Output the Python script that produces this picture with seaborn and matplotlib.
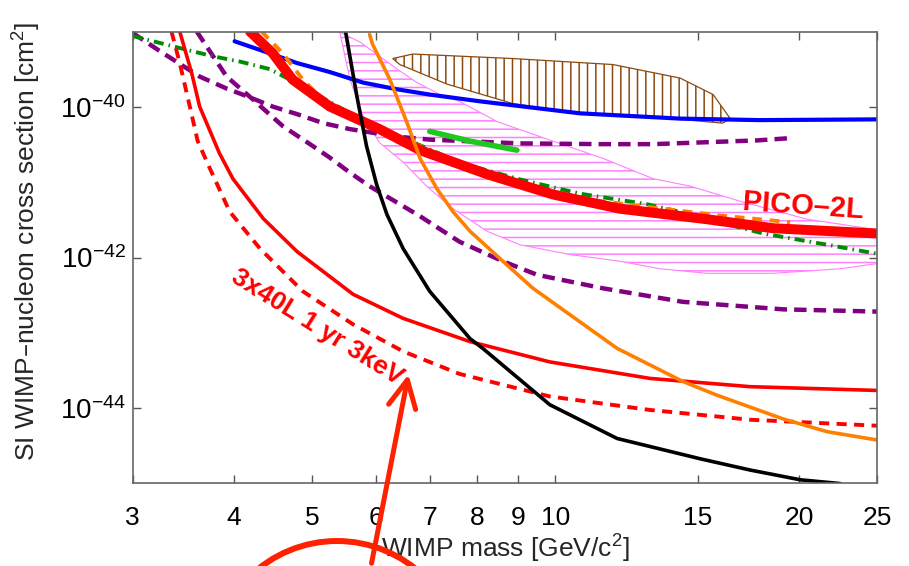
import numpy as np
import pandas as pd
import matplotlib
matplotlib.use("Agg")
import matplotlib.pyplot as plt
from matplotlib.patches import Polygon, Ellipse, FancyArrowPatch
from matplotlib.ticker import NullLocator
import seaborn as sns

# WIMP mass [GeV/c^2] and log10(cross section [cm^2])
pico_m = [4.19, 4.47, 4.73, 5.26, 6.06, 6.80, 8.23, 9.93, 12.02, 15.40, 18.59, 25.0]
pico_ls = [-38.99, -39.28, -39.63, -39.99, -40.29, -40.57, -40.89, -41.16, -41.35, -41.49, -41.61, -41.68]

blue_m = [4.01, 4.35, 4.79, 5.26, 5.78, 6.37, 6.99, 8.07, 10.73, 14.26, 17.91, 25.0]
blue_ls = [-39.12, -39.25, -39.41, -39.53, -39.67, -39.76, -39.83, -39.92, -40.08, -40.15, -40.17, -40.16]

black_m = [5.50, 5.68, 5.84, 6.01, 6.19, 6.48, 6.99, 7.84, 8.13, 9.84, 11.92, 15.10, 17.41, 20.08, 22.50]
black_ls = [-38.99, -39.85, -40.52, -41.03, -41.43, -41.88, -42.45, -43.08, -43.21, -43.96, -44.41, -44.68, -44.83, -44.96, -45.01]

orange_m = [5.89, 5.94, 6.24, 6.55, 6.80, 7.13, 7.47, 7.84, 8.61, 9.38, 11.92, 14.37, 15.81, 19.13, 21.69, 25.0]
orange_ls = [-39.03, -39.16, -39.63, -40.20, -40.68, -41.08, -41.39, -41.65, -42.05, -42.41, -43.21, -43.65, -43.83, -44.15, -44.32, -44.43]

orange_dash_m = [4.33, 4.60, 4.87, 5.26, 6.06, 8.23, 10.13, 13.09, 15.98, 19.51]
orange_dash_ls = [-38.99, -39.28, -39.63, -39.99, -40.29, -40.89, -41.18, -41.33, -41.44, -41.53]

green_dd_m = [3.0, 3.43, 3.77, 4.07, 4.43, 4.73, 5.94, 6.55, 7.13, 7.68, 9.04, 10.73, 12.98, 13.98, 18.07, 21.69, 25.0]
green_dd_ls = [-39.05, -39.21, -39.32, -39.39, -39.49, -39.65, -40.25, -40.43, -40.60, -40.75, -40.96, -41.15, -41.29, -41.37, -41.68, -41.83, -41.95]

green_m = [6.99, 7.84, 8.96]
green_ls = [-40.32, -40.45, -40.57]

purple_up_m = [3.0, 3.24, 3.63, 3.92, 4.15, 4.47, 4.79, 5.16, 5.57, 6.37, 6.99, 9.04, 11.45, 13.21, 17.76, 19.51]
purple_up_ls = [-39.01, -39.25, -39.59, -39.75, -39.85, -39.99, -40.09, -40.21, -40.29, -40.39, -40.43, -40.48, -40.49, -40.49, -40.44, -40.41]

purple_lo_m = [3.60, 3.92, 4.22, 4.60, 4.97, 5.26, 5.57, 5.89, 6.80, 7.61, 8.61, 9.49, 11.45, 14.37, 19.13, 25.0]
purple_lo_ls = [-38.99, -39.59, -39.89, -40.25, -40.49, -40.67, -40.87, -41.05, -41.45, -41.79, -42.05, -42.23, -42.41, -42.59, -42.69, -42.72]

red_m = [3.43, 3.55, 3.63, 3.84, 3.99, 4.35, 4.79, 5.62, 6.48, 7.84, 9.84, 13.09, 17.41, 25.0]
red_ls = [-38.99, -39.55, -39.99, -40.61, -40.95, -41.48, -41.92, -42.49, -42.81, -43.12, -43.39, -43.61, -43.72, -43.77]

red_dash_m = [3.35, 3.43, 3.53, 3.61, 3.736, 3.955, 4.31, 4.87, 5.62, 6.48, 7.61, 9.84, 13.09, 17.41, 25.0]
red_dash_ls = [-38.99, -39.41, -39.99, -40.45, -40.81, -41.39, -41.88, -42.45, -42.89, -43.25, -43.55, -43.85, -44.03, -44.16, -44.24]

# closed regions (outline walked round)
pink_m = [5.41, 5.73, 6.06, 6.37, 6.74, 7.20, 7.61, 8.47, 9.93, 11.45, 13.21, 14.68, 16.92, 20.48, 25.0,
          25.0, 22.5, 18.59, 15.40, 13.47, 12.02, 10.42, 9.04, 8.23, 7.47, 6.93, 6.48, 6.06, 5.78, 5.57]
pink_ls = [-39.0, -39.13, -39.32, -39.49, -39.67, -39.83, -39.92, -40.19, -40.45, -40.68, -40.95, -41.05, -41.25, -41.49, -41.63,
           -42.08, -42.15, -42.21, -42.21, -42.15, -42.05, -41.96, -41.83, -41.65, -41.35, -41.05, -40.73, -40.47, -40.12, -39.63]

brown_m = [6.29, 6.66, 8.86, 11.78, 14.26, 15.67, 16.45, 16.1, 14.26, 10.73, 8.86, 7.34, 6.42]
brown_ls = [-39.35, -39.29, -39.35, -39.43, -39.61, -39.83, -40.15, -40.21, -40.16, -40.08, -39.95, -39.69, -39.43]

x_ticks = [3, 4, 5, 6, 7, 8, 9, 10, 15, 20, 25]
y_ticks = [-44, -42, -40]

RED = "#FF0000"
PURPLE = "#800080"
ORANGE = "#FF8000"

sns.set_theme(style="ticks")
plt.rcParams["font.family"] = ["Liberation Sans", "DejaVu Sans"]
plt.rcParams["mathtext.default"] = "regular"
plt.rcParams["hatch.linewidth"] = 1.1

fig = plt.figure(figsize=(9.09, 5.66), dpi=100)
ax = fig.add_axes([0.146, 0.147, 0.819, 0.796])
ax.set_xscale("log")
ax.set_yscale("log")

# hatched regions
ax.add_patch(Polygon(np.column_stack([pink_m, 10.0 ** np.array(pink_ls)]), closed=True,
                     facecolor="none", edgecolor="#FF80FF", linewidth=0.8, hatch="--", zorder=1))
ax.add_patch(Polygon(np.column_stack([brown_m, 10.0 ** np.array(brown_ls)]), closed=True,
                     facecolor="none", edgecolor="#8B4A10", linewidth=0.9, hatch="||", zorder=1))

curves = [
    (purple_up_m, purple_up_ls, dict(color=PURPLE, linewidth=3.2, dashes=(2.8, 1.6))),
    (purple_lo_m, purple_lo_ls, dict(color=PURPLE, linewidth=3.2, dashes=(2.8, 1.6))),
    (green_dd_m, green_dd_ls, dict(color="#008C00", linewidth=2.8, dashes=(2.6, 1.3, 0.4, 1.3))),
    (green_m, green_ls, dict(color="#1EC81E", linewidth=4.0, solid_capstyle="round")),
    (red_m, red_ls, dict(color=RED, linewidth=2.6)),
    (red_dash_m, red_dash_ls, dict(color=RED, linewidth=2.8, dashes=(2.6, 1.9))),
    (blue_m, blue_ls, dict(color="#0000FF", linewidth=3.0)),
    (orange_dash_m, orange_dash_ls, dict(color=ORANGE, linewidth=2.8, dashes=(2.5, 2.0))),
    (pico_m, pico_ls, dict(color=RED, linewidth=7.2)),
    (black_m, black_ls, dict(color="black", linewidth=2.6)),
    (orange_m, orange_ls, dict(color=ORANGE, linewidth=2.6)),
]
for m, ls, style in curves:
    df = pd.DataFrame({"mass": m, "sigma": 10.0 ** np.array(ls)})
    sns.lineplot(data=df, x="mass", y="sigma", ax=ax, sort=False, estimator=None,
                 legend=False, **style)

ax.set_xlim(3, 25)
ax.set_ylim(1e-45, 1e-39)
ax.xaxis.set_minor_locator(NullLocator())
ax.yaxis.set_minor_locator(NullLocator())
ax.set_xticks(x_ticks)
ax.set_xticklabels([str(t) for t in x_ticks])
ax.set_yticks([10.0 ** e for e in y_ticks])
ax.set_yticklabels([r"$\mathdefault{10^{%d}}$" % e for e in y_ticks])
ax.tick_params(direction="in", top=True, right=True, length=6, width=1,
               color="#555555", labelcolor="black")
ax.tick_params(axis="x", labelsize=19, pad=17)
ax.tick_params(axis="y", labelsize=20, pad=5)
for sp in ax.spines.values():
    sp.set_color("#666666")
    sp.set_linewidth(1.2)

ax.set_xlabel(r"WIMP mass [GeV/c$^{2}$]", fontsize=19)
ax.set_ylabel(r"SI WIMP–nucleon cross section [cm$^{2}$]", fontsize=19)
ax.xaxis.set_label_coords(0.5, -0.11)
ax.yaxis.set_label_coords(-0.12, 0.535)

ax.text(20.25, 10.0 ** -41.32, "PICO–2L", color=RED, fontsize=21, fontweight="bold",
        rotation=-4, ha="center", va="center", rotation_mode="anchor", zorder=6)
ax.text(5.08, 10.0 ** -42.93, "3x40L 1 yr 3keV", color=RED, fontsize=19, fontweight="bold",
        rotation=-32, ha="center", va="center", rotation_mode="anchor", zorder=6)

# hand-drawn style annotation: circle below the axis and arrow
fig.add_artist(Ellipse((337 / 909, 1 - 666 / 566), width=250 / 909, height=250 / 566,
                       transform=fig.transFigure, facecolor="none", edgecolor="#FF2200",
                       linewidth=4.3, zorder=10))
arrow = FancyArrowPatch(posA=(0, 0), posB=(0, 0), arrowstyle="->,head_length=1.1,head_width=0.55",
                        mutation_scale=18, color="#FF2200", linewidth=3.6, zorder=10)
tip = ax.transData.transform((6.59, 10.0 ** -43.52))
arrow.set_positions((371 / 909 * fig.bbox.width, 0.0), tuple(tip))
arrow.set_transform(None)
fig.add_artist(arrow)

fig.savefig("out.png", dpi=100)
